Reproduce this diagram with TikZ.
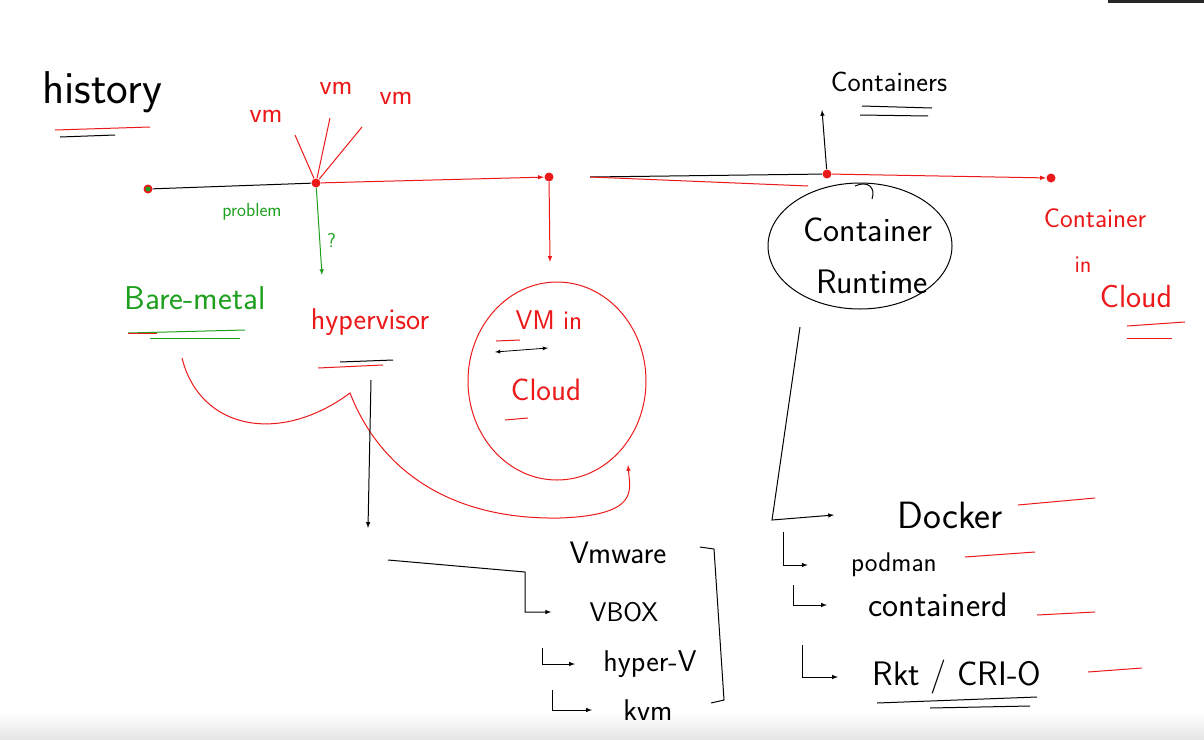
\documentclass[tikz,border=0pt]{standalone}
\usetikzlibrary{shapes.geometric}
\definecolor{pengreen}{RGB}{30,160,30}
\definecolor{penred}{RGB}{235,25,25}
\tikzset{
  sz/.style={font=\sffamily\fontsize{#1}{#1}\selectfont, inner sep=1pt},
  dot/.style={circle, fill=penred, inner sep=0pt, minimum size=9pt},
}
\begin{document}
\begin{tikzpicture}[x=1pt,y=-1pt,line width=1pt]
	\tikzset{>=latex}
	\useasboundingbox (0,0) rectangle (1204,739);
	\shade[top color=white,bottom color=black!10,draw=none] (0,712) rectangle (1204,739);
	\fill[black!85] (1108,0) rectangle (1204,3);

	\node[sz=46] (history) at (102,92) {history};
	\draw[penred] (55,130) -- (150,127);
	\draw (60,137) -- (115,135);

	\node[dot] (start) at (148,189) {};
	\fill[pengreen] (start) circle (2.5);
	\node[dot] (hv) at (316,183) {};
	\node[dot] (vmc) at (549,177) {};
	\node[dot] (ct) at (827,174) {};
	\node[dot] (cic) at (1051,178) {};

	\draw (start) -- (hv);
	\draw[->,penred] (hv) -- (vmc);
	\coordinate (mid) at (590,177);
	\draw (mid) -- (ct);
	\coordinate (redend) at (808,186);
	\draw[penred] (mid) -- (redend);
	\draw[->,penred] (ct) -- (cic);

	\node[sz=28,text=penred] (vmA) at (266,116) {vm};
	\node[sz=28,text=penred] (vmB) at (336,88) {vm};
	\node[sz=28,text=penred] (vmC) at (396,98) {vm};
	\coordinate (vmAend) at (295,135);
	\coordinate (vmBend) at (330,118);
	\coordinate (vmCend) at (362,127);
	\draw[penred] (hv) -- (vmAend);
	\draw[penred] (hv) -- (vmBend);
	\draw[penred] (hv) -- (vmCend);

	\node[sz=19,text=pengreen] (problem) at (252,212) {problem};
	\coordinate (qend) at (322,275);
	\draw[->,pengreen] (hv) -- (qend) node[pos=.6,right=6pt,sz=20,text=pengreen] (q) {?};

	\node[sz=33,text=pengreen] (bare) at (195,298) {Bare-metal};
	\draw[pengreen] (128,333) -- (245,330);
	\draw[penred] (128,333) -- (157,333);
	\draw[pengreen] (150,338) -- (240,338);

	\node[sz=30,text=penred] (hyper) at (370,322) {hypervisor};
	\draw (340,362) -- (393,360);
	\draw[penred] (318,368) -- (383,365);

	\node[draw=penred,ellipse,minimum width=178,minimum height=198] (cloud) at (557,381) {};
	\coordinate (cloudin) at (550,262);
	\draw[->,penred] (vmc) -- (cloudin);
	\node[sz=27,text=penred] (vmin) at (549,320) {VM in};
	\node[sz=31,text=penred] (cloudtxt) at (546,390) {Cloud};
	\draw[penred] (496,341) -- (520,340);
	\draw[<->,line width=.8pt] (495,352) -- (548,348);
	\draw[penred] (505,420) -- (528,418);

	\coordinate (bareout) at (182,358);
	\coordinate (hvpeak) at (350,393);
	\coordinate (cloudarr) at (628,465);
	\draw[penred,->] (bareout) .. controls (200,430) and (280,445) .. (hvpeak)
		.. controls (380,470) and (450,520) .. (560,518)
		.. controls (640,515) and (630,490) .. (cloudarr);

	\node[sz=31] (vmware) at (618,553) {Vmware};
	\node[sz=27] (vbox) at (624,612) {VBOX};
	\node[sz=30] (hyperv) at (650,664) {hyper-V};
	\node[sz=30] (kvm) at (648,710) {kvm};
	\coordinate (hvdown) at (371,380);
	\coordinate (hvlist) at (368,528);
	\draw[->] (hvdown) -- (hvlist);
	\draw[->] (388,560) -- (525,572) |- ([xshift=-37pt]vbox.west);
	\draw[->] (542,648) |- ([xshift=-27pt]hyperv.west);
	\draw[->] (552,690) |- ([xshift=-30pt]kvm.west);
	\draw (700,547) -- (714,549) -- (724,700) -- (711,703);

	\node[sz=28] (containers) at (889,82) {Containers};
	\coordinate (ctup) at (822,110);
	\draw[->] (ct) -- (ctup);
	\draw (862,106) -- (932,108);
	\draw (860,115) -- (928,116);

	\node[draw,ellipse,minimum width=184,minimum height=126] (rt) at (860,246) {};
	\draw (855,186) .. controls (868,180) and (876,188) .. (872,199);
	\node[sz=34] (rttop) at (868,230) {Container};
	\node[sz=34] (rtbot) at (872,282) {Runtime};

	\node[sz=27,text=penred] (cicA) at (1095,218) {Container};
	\node[sz=24,text=penred] (cicB) at (1083,265) {in};
	\node[sz=32,text=penred] (cicC) at (1136,297) {Cloud};
	\draw[penred] (1127,326) -- (1185,322);
	\draw[penred] (1127,338) -- (1172,338);

	\node[sz=38] (docker) at (950,515) {Docker};
	\node[sz=27] (podman) at (894,565) {podman};
	\node[sz=34] (containerd) at (938,605) {containerd};
	\node[sz=34] (rkt) at (957,677) {Rkt / CRI-O};
	\draw[->] (800,327) -- (772,520) -- ([xshift=-62pt]docker.west);
	\draw[->] (783,532) |- ([xshift=-42pt]podman.west);
	\draw[->] (793,585) |- ([xshift=-40pt]containerd.west);
	\draw[->] (802,645) |- ([xshift=-33pt]rkt.west);
	\draw[penred] (1018,505) -- (1095,498);
	\draw[penred] (965,557) -- (1035,552);
	\draw[penred] (1037,615) -- (1095,612);
	\draw[penred] (1088,672) -- (1142,668);
	\draw (877,703) -- (1037,697);
	\draw (930,708) -- (1030,706);

\end{tikzpicture}
\end{document}
